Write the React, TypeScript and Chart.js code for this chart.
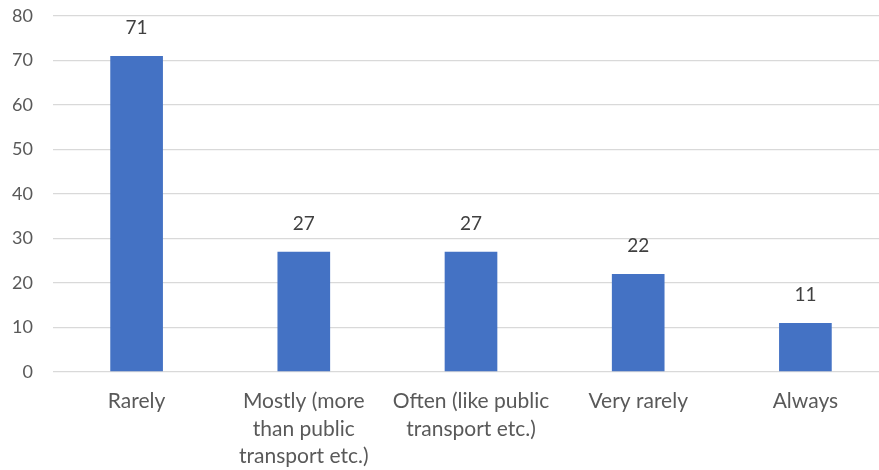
import React, { useEffect, useRef } from "react";
import { Chart, registerables } from "chart.js";

Chart.register(...registerables);

const categories: string[][] = [
  ["Rarely"],
  ["Mostly (more", "than public", "transport etc.)"],
  ["Often (like public", "transport etc.)"],
  ["Very rarely"],
  ["Always"],
];
const counts: number[] = [71, 27, 27, 22, 11];
const yTicks: number[] = [0, 10, 20, 30, 40, 50, 60, 70, 80];

const FONT = "Lato, 'Open Sans', sans-serif";

// Writes each bar's value just above it
const valueLabels = {
  id: "valueLabels",
  afterDatasetsDraw(chart: any) {
    const { ctx } = chart;
    const meta = chart.getDatasetMeta(0);
    const data = chart.data.datasets[0].data as number[];
    ctx.save();
    ctx.font = `19px ${FONT}`;
    ctx.fillStyle = "#404040";
    ctx.textAlign = "center";
    ctx.textBaseline = "middle";
    meta.data.forEach((bar: any, i: number) => {
      ctx.fillText(String(data[i]), bar.x, bar.y - 28);
    });
    ctx.restore();
  },
};

export default function App() {
  const ref = useRef<HTMLCanvasElement>(null);

  useEffect(() => {
    if (!ref.current) return;
    const chart = new Chart(ref.current, {
      type: "bar",
      data: {
        labels: categories,
        datasets: [
          {
            data: counts,
            backgroundColor: "#4472C4",
            borderWidth: 0,
            barPercentage: 1,
            categoryPercentage: 0.315,
          },
        ],
      },
      options: {
        animation: false,
        responsive: false,
        maintainAspectRatio: false,
        layout: { padding: { top: 16, right: 0, left: 0, bottom: 0 } },
        plugins: {
          legend: { display: false },
          tooltip: { enabled: false },
        },
        scales: {
          x: {
            grid: { display: false, drawTicks: false },
            border: { display: false },
            ticks: {
              color: "#595959",
              font: { family: FONT, size: 21, lineHeight: 1.3 },
              padding: 16,
              maxRotation: 0,
              autoSkip: false,
            },
            afterFit(scale: any) {
              scale.height = 98;
              scale.paddingLeft = 0;
              scale.paddingRight = 0;
            },
          },
          y: {
            min: 0,
            max: 80,
            afterBuildTicks(scale: any) {
              scale.ticks = yTicks.map((v) => ({ value: v }));
            },
            grid: { color: "#D9D9D9", lineWidth: 1.3, drawTicks: false },
            border: { display: false },
            ticks: {
              color: "#595959",
              font: { family: FONT, size: 18 },
              padding: 20,
            },
            afterFit(scale: any) {
              scale.width = 53;
              scale.paddingTop = 0;
              scale.paddingBottom = 0;
            },
          },
        },
      },
      plugins: [valueLabels],
    });
    return () => chart.destroy();
  }, []);

  return (
    <div
      style={{
        position: "fixed",
        left: 0,
        top: 0,
        width: 879,
        height: 470,
        overflow: "hidden",
        background: "#fff",
      }}
    >
      <canvas ref={ref} width={889} height={470} style={{ display: "block" }} />
    </div>
  );
}
